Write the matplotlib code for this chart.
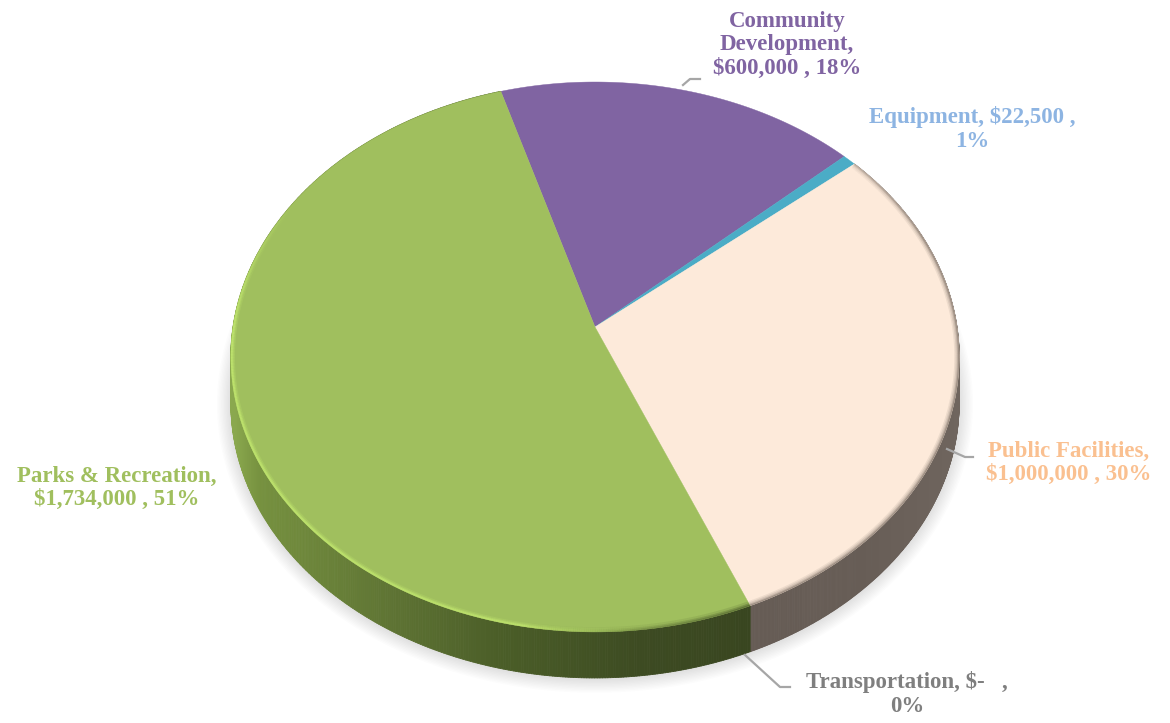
import numpy as np
import matplotlib
matplotlib.use("Agg")
import matplotlib.pyplot as plt
from matplotlib.collections import LineCollection, PolyCollection
from matplotlib.colors import to_rgb
from matplotlib.patches import Polygon

categories = ["Community Development", "Equipment", "Public Facilities", "Transportation", "Parks & Recreation"]
amounts = [600000, 22500, 1000000, 0, 1734000]
slice_colors = ["#8064a2", "#4bacc6", "#fdeada", "#7f7f7f", "#a0bf5e"]

label_texts = [
    "Community\nDevelopment,\n$600,000 , 18%",
    "Equipment, $22,500 ,\n1%",
    "Public Facilities,\n$1,000,000 , 30%",
    "Transportation, $-   ,\n0%",
    "Parks & Recreation,\n$1,734,000 , 51%",
]
label_colors = ["#8064a2", "#8db4e2", "#fac090", "#7f7f7f", "#a0bf5e"]
label_xy = [(787, 45), (972, 129), (1069, 463), (907, 694), (117, 488)]

leaders = [
    [(683, 85), (690, 79), (700, 79)],
    [(947, 449), (965, 457), (973, 457)],
    [(745, 655), (780, 687), (790, 687)],
]

# pie geometry, in pixels
CX, CY = 595, 327
RX, RY = 362, 271.7
PERSP = 0.109
DEPTH = 46
START = -16.7


def project(theta):
    # theta in degrees, clockwise from the back of the disc
    t = np.radians(theta)
    u, v = np.sin(t), np.cos(t)
    w = 1 + PERSP * v
    return CX + RX * u / w, CY - RY * v / w


def blend(stops, x):
    xs = [s[0] for s in stops]
    rgb = np.array([to_rgb(s[1]) for s in stops])
    return np.column_stack([np.interp(x, xs, rgb[:, i]) for i in range(3)])


# wall shading runs left to right across the front of the pie
wall_stops = {
    "#a0bf5e": [(235, "#8aa84e"), (260, "#76913f"), (400, "#5d7233"), (500, "#4b5e28"), (640, "#3d4b22"), (748, "#394620")],
    "#fdeada": [(745, "#665c55"), (860, "#675d56"), (960, "#6f655e")],
}

fig = plt.figure(figsize=(11.7, 7.23), dpi=100)
ax = fig.add_axes([0, 0, 1, 1])
ax.set_xlim(0, 1170)
ax.set_ylim(723, 0)
ax.axis("off")

fractions = np.array(amounts) / sum(amounts)
edges = START + np.concatenate([[0], np.cumsum(fractions) * 360])

# soft drop shadow under the disc
rim = np.linspace(0, 360, 721)
rx, ry = project(rim)
for lw in np.arange(2, 22, 2):
    ax.plot(rx, ry + DEPTH + 1, color="black", lw=lw, alpha=0.012, zorder=1)
    ax.fill(rx, ry + DEPTH + 1, color="white", alpha=0, zorder=1)

# side wall
for i, col in enumerate(slice_colors):
    if col not in wall_stops:
        continue
    th = np.linspace(edges[i], edges[i + 1], 500)
    x, y = project(th)
    quads = [
        [(x[j], y[j]), (x[j + 1], y[j + 1]), (x[j + 1], y[j + 1] + DEPTH), (x[j], y[j] + DEPTH)]
        for j in range(len(th) - 1)
    ]
    cols = blend(wall_stops[col], x[:-1])
    ax.add_collection(PolyCollection(quads, facecolors=cols, edgecolors=cols, linewidths=0.6, zorder=2))

# top face
top_patches = {}
for i, col in enumerate(slice_colors):
    if amounts[i] == 0:
        continue
    th = np.linspace(edges[i], edges[i + 1], 300)
    x, y = project(th)
    pts = np.column_stack([np.r_[CX, x], np.r_[CY, y]])
    patch = Polygon(pts, closed=True, facecolor=col, edgecolor=col, lw=0.3, zorder=3)
    ax.add_patch(patch)
    top_patches[col] = patch


def rim_stroke(theta, alpha, color, width, clip):
    # stroke along the disc edge with alpha varying along its length
    x, y = project(theta)
    segs = np.stack([np.column_stack([x[:-1], y[:-1]]), np.column_stack([x[1:], y[1:]])], axis=1)
    rgba = np.zeros((len(segs), 4))
    rgba[:, :3] = to_rgb(color)
    rgba[:, 3] = alpha[:-1]
    lc = LineCollection(segs, colors=rgba, linewidths=width, zorder=4, capstyle="butt")
    ax.add_collection(lc)
    lc.set_clip_path(clip)


# bevel highlight on the green slice
th_g = np.linspace(edges[4], edges[5], 600)
fade_g = np.interp(th_g, [157, 172, 190, 270, 285, 300], [0, 0, 0.85, 1, 0.4, 0])
for width, a in [(6, 0.25), (4, 0.45), (2.5, 0.7)]:
    rim_stroke(th_g, fade_g * a, "#c2e86f", width, top_patches["#a0bf5e"])
# darker end of the green rim next to the peach slice
dark_g = np.interp(th_g, [157, 165, 180, 190], [1, 0.7, 0.2, 0])
for width, a in [(7, 0.15), (4, 0.3), (2, 0.4)]:
    rim_stroke(th_g, dark_g * a, "#3d4b22", width, top_patches["#a0bf5e"])

# dark soft edge on the peach slice
th_p = np.linspace(edges[2], edges[3], 500)
fade_p = np.interp(th_p, [50, 70, 157.5], [0.5, 1, 1])
for width, a in [(7, 0.1), (5, 0.15), (3, 0.25), (1.5, 0.4)]:
    rim_stroke(th_p, fade_p * a, "#6b5f56", width, top_patches["#fdeada"])

for pts in leaders:
    xs, ys = zip(*pts)
    ax.plot(xs, ys, color="#a6a6a6", lw=1.6, zorder=5, solid_joinstyle="round")

for txt, col, (lx, ly) in zip(label_texts, label_colors, label_xy):
    ax.text(lx, ly, txt, color=col, ha="center", va="center", fontsize=16.5,
            fontweight="bold", family="Liberation Serif", linespacing=1.15, zorder=6)

fig.savefig("out.png", dpi=100)
